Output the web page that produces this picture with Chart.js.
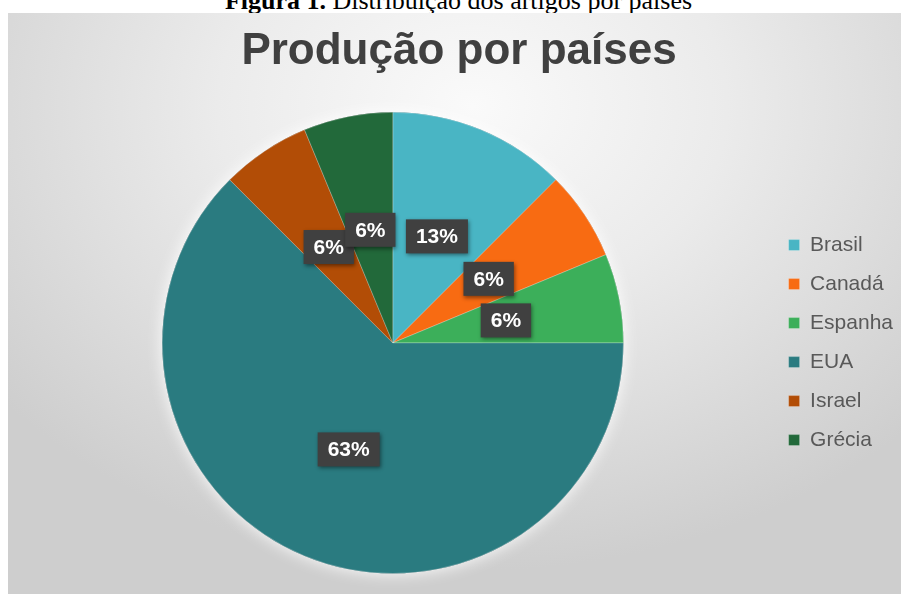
<!DOCTYPE html>
<html>
<head>
<meta charset="utf-8">
<script src="https://cdn.jsdelivr.net/npm/chart.js@4"></script>
<style>
  html, body { margin: 0; padding: 0; background: #ffffff; width: 901px; height: 594px; overflow: hidden; }
  #caption {
    position: absolute; left: 8px; top: -12px; width: 901px; text-align: center; white-space: nowrap;
    font-family: "Liberation Serif", "Times New Roman", serif; font-size: 26px; line-height: 26px; color: #000;
  }
  #wrap {
    position: absolute; left: 8px; top: 13px; width: 893px; height: 581px; overflow: hidden;
    background: radial-gradient(ellipse 68% 80% at 52% 16%, #fafafa 0%, #ebebeb 42%, #cecece 100%);
  }
  canvas { display: block; }
</style>
</head>
<body>
<div id="caption"><b>Figura 1.</b> Distribuição dos artigos por países</div>
<div id="wrap"><canvas id="chart" width="900" height="581"></canvas></div>
<script>
const countries = ["Brasil", "Canadá", "Espanha", "EUA", "Israel", "Grécia"];
const articles = [2, 1, 1, 10, 1, 1];
const sliceColors = ["#49b5c4", "#f86b12", "#3caf5a", "#2a7b80", "#b24d06", "#22693a"];

const total = articles.reduce((a, b) => a + b, 0);

// soft light halo behind the pie
const pieGlow = {
  id: "pieGlow",
  beforeDatasetsDraw(chart) {
    const arc = chart.getDatasetMeta(0).data[0];
    if (!arc) return;
    const ctx = chart.ctx;
    ctx.save();
    ctx.shadowColor = "rgba(255,255,255,0.95)";
    ctx.shadowBlur = 16;
    ctx.fillStyle = "#888888";
    ctx.beginPath();
    ctx.arc(arc.x, arc.y, arc.outerRadius, 0, Math.PI * 2);
    ctx.fill();
    ctx.restore();
  }
};

// dark percentage boxes in the middle of each slice
const percentLabels = {
  id: "percentLabels",
  afterDatasetsDraw(chart) {
    const ctx = chart.ctx;
    const meta = chart.getDatasetMeta(0);
    ctx.save();
    ctx.font = "bold 21px 'Liberation Sans', Arial, sans-serif";
    ctx.textAlign = "center";
    ctx.textBaseline = "middle";
    meta.data.forEach((arc, i) => {
      const a = (arc.startAngle + arc.endAngle) / 2;
      const r = arc.outerRadius * 0.5;
      const x = arc.x + Math.cos(a) * r;
      const y = arc.y + Math.sin(a) * r;
      const text = Math.round(articles[i] / total * 100) + "%";
      const w = ctx.measureText(text).width + 20;
      const h = 34;
      ctx.shadowColor = "rgba(0,0,0,0.45)";
      ctx.shadowBlur = 4;
      ctx.shadowOffsetX = 1;
      ctx.shadowOffsetY = 2;
      ctx.fillStyle = "#404040";
      ctx.fillRect(x - w / 2, y - h / 2, w, h);
      ctx.shadowColor = "transparent";
      ctx.fillStyle = "#ffffff";
      ctx.fillText(text, x, y + 1);
    });
    ctx.restore();
  }
};

new Chart(document.getElementById("chart"), {
  type: "pie",
  data: {
    labels: countries,
    datasets: [
      {
        data: articles,
        backgroundColor: sliceColors,
        borderColor: "rgba(255,255,255,0.25)",
        borderWidth: 1,
      },
    ],
  },
  options: {
    responsive: false,
    animation: false,
    layout: { padding: { left: 7, top: 0, right: 5, bottom: 20 } },
    plugins: {
      title: {
        display: true,
        text: "Produção por países",
        color: "#404040",
        font: { family: "'Liberation Sans', Arial, sans-serif", size: 44, weight: "bold", lineHeight: 1.2 },
        padding: { top: 12, bottom: 34 },
      },
      legend: {
        position: "right",
        // empty legend title pushes the rows down below the chart title band
        title: { display: true, text: " ", font: { size: 1 }, padding: { top: 97, bottom: 0 } },
        labels: {
          boxWidth: 11,
          boxHeight: 11,
          padding: 18,
          color: "#595959",
          font: { family: "'Liberation Sans', Arial, sans-serif", size: 21 },
        },
      },
      tooltip: { enabled: false },
    },
  },
  plugins: [pieGlow, percentLabels],
});
</script>
</body>
</html>
